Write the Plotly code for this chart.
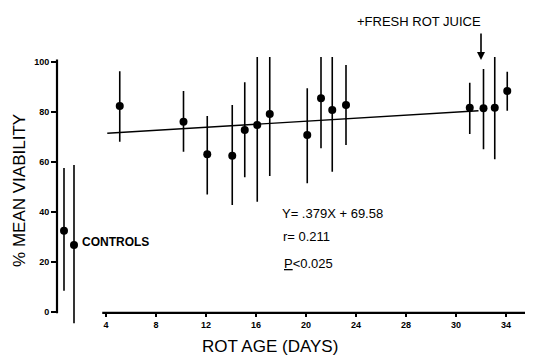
import plotly.graph_objects as go

# ---- data ----
control_x = [0.64, 1.44]            # control positions left of the age axis
control_y = [32.5, 26.8]
control_hi = [57.6, 58.8]
control_lo = [8.5, -4.5]

age_x = [5.1, 10.2, 12.1, 14.1, 15.1, 16.1, 17.1, 20.1, 21.2, 22.1, 23.2, 33.1, 34.2, 35.1, 36.1]
age_y = [82.4, 76.1, 63.1, 62.5, 72.8, 74.8, 79.2, 70.8, 85.5, 80.8, 82.8, 81.7, 81.5, 81.7, 88.4]
age_hi = [96.3, 88.4, 78.4, 82.8, 91.9, 105.0, 102.8, 89.5, 105.5, 104.5, 98.8, 91.7, 97.2, 103.2, 96.1]
age_lo = [68.1, 64.1, 47.0, 42.8, 53.9, 44.1, 54.4, 51.5, 65.5, 56.1, 66.8, 71.2, 65.1, 61.1, 80.5]

fit_x = [4.1, 33.8]
fit_y = [71.5, 80.5]

x_tickvals = [4, 8, 12, 16, 20, 24, 28, 32, 36]
x_ticktext = ["4", "8", "12", "16", "20", "24", "28", "30", "34"]
y_tickvals = [0, 20, 40, 60, 80, 100]
y_ticktext = ["0", "20", "40", "60", "80", "100"]

juice_x = 34.0

FONT = "Liberation Sans, Arial, sans-serif"

def err(y, hi, lo):
    return dict(type="data", symmetric=False,
                array=[h - v for h, v in zip(hi, y)],
                arrayminus=[v - l for v, l in zip(y, lo)],
                color="black", thickness=1.6, width=0)

fig = go.Figure()
fig.add_trace(go.Scatter(x=fit_x, y=fit_y, mode="lines",
                         line=dict(color="black", width=1.4), hoverinfo="skip"))
fig.add_trace(go.Scatter(x=control_x, y=control_y, mode="markers",
                         marker=dict(color="black", size=8),
                         error_y=err(control_y, control_hi, control_lo), cliponaxis=False))
fig.add_trace(go.Scatter(x=age_x, y=age_y, mode="markers",
                         marker=dict(color="black", size=8),
                         error_y=err(age_y, age_hi, age_lo), cliponaxis=False))

# page body has an 8px margin: figure is 525x347 placed at (8,8)
fig.update_layout(
    width=525, height=347,
    margin=dict(l=49, r=0, t=49, b=28, autoexpand=False),
    plot_bgcolor="white", paper_bgcolor="white",
    showlegend=False,
    font=dict(family=FONT, color="black"),
)
fig.update_xaxes(range=[0.08, 38.16], showgrid=False, zeroline=False, showline=False,
                 anchor="free", position=0.052, automargin=False,
                 tickmode="array", tickvals=x_tickvals, ticktext=x_ticktext,
                 ticks="outside", ticklen=3, tickwidth=1.5, tickcolor="black",
                 tickfont=dict(size=9, family="Liberation Sans, Arial", weight="bold"))
fig.update_yaxes(range=[-6, 102], showgrid=False, zeroline=False, showline=False,
                 automargin=False,
                 tickmode="array", tickvals=y_tickvals, ticktext=y_ticktext,
                 ticks="outside", ticklen=5, tickwidth=1.5, tickcolor="black",
                 tickfont=dict(size=9, family="Liberation Sans, Arial", weight="bold"))

# axis lines
fig.add_shape(type="line", xref="paper", yref="y", x0=0, x1=0, y0=-0.5, y1=101,
              line=dict(color="black", width=2.2))
fig.add_shape(type="line", xref="x", yref="paper", x0=3.7, x1=38.16, y0=0.052, y1=0.052,
              line=dict(color="black", width=2.2))

# titles
fig.add_annotation(text="ROT AGE (DAYS)", xref="paper", yref="paper",
                   x=(270 - 57) / 476, y=-(346 - 327) / 270, xanchor="center", yanchor="middle",
                   showarrow=False, font=dict(size=17))
fig.add_annotation(text="% MEAN VIABILITY", xref="paper", yref="paper",
                   x=(20 - 57) / 476, y=0.504, xanchor="center", yanchor="middle",
                   textangle=-90, showarrow=False, font=dict(size=17))

# text labels
fig.add_annotation(text="CONTROLS", x=1.95, y=28.2, xanchor="left", showarrow=False,
                   font=dict(size=12, weight="bold"))
fig.add_annotation(text="Y= .379X + 69.58", x=17.9, y=39.6, xanchor="left", showarrow=False,
                   font=dict(size=13))
fig.add_annotation(text="r= 0.211", x=18.0, y=30.4, xanchor="left", showarrow=False,
                   font=dict(size=13))
fig.add_annotation(text="<u>P</u><0.025", x=18.1, y=19.6, xanchor="left", showarrow=False,
                   font=dict(size=13))
fig.add_annotation(text="+FRESH ROT JUICE", xref="paper", yref="paper",
                   x=(419 - 57) / 476, y=(327 - 21) / 270,
                   xanchor="center", yanchor="middle", showarrow=False,
                   font=dict(size=13))
fig.add_annotation(text="", x=juice_x, y=100.8, ax=juice_x, ay=112, axref="x", ayref="y",
                   showarrow=True, arrowhead=2, arrowsize=1, arrowwidth=1.6, arrowcolor="black")

fig.write_html("out.html")
